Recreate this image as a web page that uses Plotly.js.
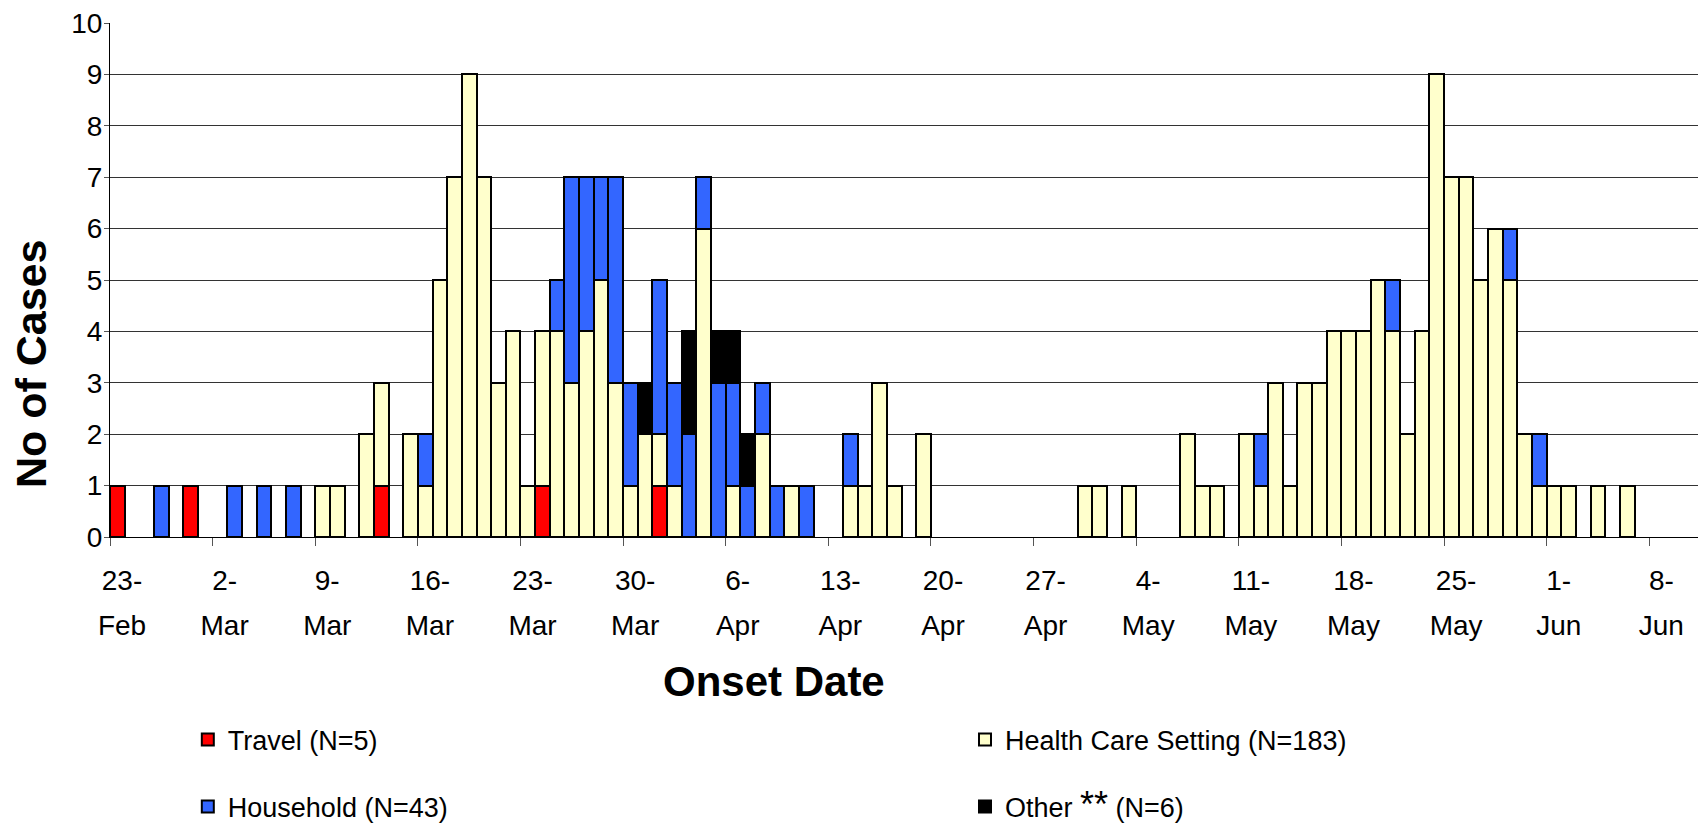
<!DOCTYPE html>
<html><head><meta charset="utf-8">
<script src="https://cdn.plot.ly/plotly-3.0.1.min.js"></script>
<style>html,body{margin:0;padding:0;background:#fff;}#chart{width:1698px;height:824px;}</style>
</head><body><div id="chart"></div>
<script>
// Daily case counts by onset date, starting 23-Feb (one entry per day)
const travel = [
1,0,0,0,0,1,0,
0,0,0,0,0,0,0,
0,0,0,0,1,0,0,
0,0,0,0,0,0,0,
0,1,0,0,0,0,0,
0,0,1,0,0,0,0,
0,0,0,0,0,0,0,
0,0,0,0,0,0,0,
0,0,0,0,0,0,0,
0,0,0,0,0,0,0,
0,0,0,0,0,0,0,
0,0,0,0,0,0,0,
0,0,0,0,0,0,0,
0,0,0,0,0,0,0,
0,0,0,0,0,0,0];
const healthCare = [
0,0,0,0,0,0,0,
0,0,0,0,0,0,0,
1,1,0,2,2,0,2,
1,5,7,9,7,3,4,
1,3,4,3,4,5,3,
1,2,1,1,0,6,0,
1,0,2,0,1,0,0,
0,1,1,3,1,0,2,
0,0,0,0,0,0,0,
0,0,0,1,1,0,1,
0,0,0,2,1,1,0,
2,1,3,1,3,3,4,
4,4,5,4,2,4,9,
7,7,5,6,5,2,1,
1,1,0,1,0,1,0];
const household = [
0,0,0,1,0,0,0,
0,1,0,1,0,1,0,
0,0,0,0,0,0,0,
1,0,0,0,0,0,0,
0,0,1,4,3,2,4,
2,0,3,2,2,1,3,
2,1,1,1,0,1,0,
0,1,0,0,0,0,0,
0,0,0,0,0,0,0,
0,0,0,0,0,0,0,
0,0,0,0,0,0,0,
0,1,0,0,0,0,0,
0,0,0,1,0,0,0,
0,0,0,0,1,0,1,
0,0,0,0,0,0,0];
const other = [
0,0,0,0,0,0,0,
0,0,0,0,0,0,0,
0,0,0,0,0,0,0,
0,0,0,0,0,0,0,
0,0,0,0,0,0,0,
0,1,0,0,2,0,1,
1,1,0,0,0,0,0,
0,0,0,0,0,0,0,
0,0,0,0,0,0,0,
0,0,0,0,0,0,0,
0,0,0,0,0,0,0,
0,0,0,0,0,0,0,
0,0,0,0,0,0,0,
0,0,0,0,0,0,0,
0,0,0,0,0,0,0];

const seriesNames = ["Travel (N=5)", "Health Care Setting (N=183)", "Household (N=43)",
  "Other <span style=\"font-size:36px\">**</span> (N=6)"];
const seriesColors = ["#FF0000", "#FFFFCC", "#3366FF", "#000000"];

// Week tick labels (weeks start 23-Feb)
const tickDayLabels = ["23-","2-","9-","16-","23-","30-","6-","13-","20-","27-","4-","11-","18-","25-","1-","8-"];
const tickMonthLabels = ["Feb","Mar","Mar","Mar","Mar","Mar","Apr","Apr","Apr","Apr","May","May","May","May","Jun","Jun"];

const days = travel.map((_, i) => i);
const weekEdges = tickDayLabels.map((_, k) => k * 7 - 0.5);
const xRange = [-0.5, 107.82];
const labelShift = 12 * (xRange[1] - xRange[0]) / 1588; // px -> data units
const labelPos = weekEdges.map(v => v + labelShift);

const FONT = "Liberation Sans, Arial, sans-serif";
const toNull = a => a.map(v => v === 0 ? null : v);

const allSeries = [travel, healthCare, household, other];
const legendIds = ["legend", "legend2", "legend3", "legend4"];
const traces = allSeries.map((vals, i) => ({
  type: "bar",
  x: days,
  y: toNull(vals),
  name: seriesNames[i],
  legend: legendIds[i],
  marker: {color: seriesColors[i], line: {color: "#000", width: 2}},
  hoverinfo: "x+y+name"
}));
// carriers so the two tick-label rows (overlay axes) get drawn
["x2", "x3"].forEach(ax => traces.push({
  type: "scatter", mode: "markers", x: [xRange[0]], y: [null], xaxis: ax, yaxis: "y",
  showlegend: false, hoverinfo: "skip"
}));

const legendBase = {
  orientation: "h", xanchor: "left", yanchor: "middle", traceorder: "normal",
  font: {size: 27, family: FONT, color: "#000"}, bgcolor: "rgba(0,0,0,0)", borderwidth: 0
};
const legendX = [0.049, 0.5384, 0.049, 0.5384];
const legendY = [-0.395, -0.395, -0.525, -0.525];

const labelAxis = (texts, len) => ({
  overlaying: "x", anchor: "y", side: "bottom", range: xRange,
  tickmode: "array", tickvals: labelPos, ticktext: texts,
  ticks: "outside", ticklen: len, tickcolor: "rgba(0,0,0,0)",
  tickfont: {size: 28, family: FONT, color: "#000"},
  showline: false, showgrid: false, zeroline: false, fixedrange: true
});

const layout = {
  width: 1698, height: 824,
  margin: {l: 110, r: 0, t: 23, b: 287, autoexpand: false},
  paper_bgcolor: "#fff", plot_bgcolor: "#fff",
  barmode: "stack", bargap: 0,
  font: {family: FONT, color: "#000", size: 27},
  xaxis: {
    range: xRange, tickmode: "array", tickvals: weekEdges, ticktext: weekEdges.map(() => ""),
    showticklabels: false, ticks: "outside", ticklen: 8, tickwidth: 1, tickcolor: "#555",
    showline: true, linecolor: "#000", linewidth: 1, showgrid: false, zeroline: false, fixedrange: true
  },
  xaxis2: labelAxis(tickDayLabels, 18),
  xaxis3: labelAxis(tickMonthLabels, 63),
  yaxis: {
    range: [0, 10], dtick: 1, tick0: 0,
    ticks: "outside", ticklen: 5, tickcolor: "#555", ticklabelstandoff: -4,
    tickfont: {size: 28, family: FONT, color: "#000"},
    showline: true, linecolor: "#000", linewidth: 1,
    showgrid: true, gridcolor: "#333", gridwidth: 1, zeroline: false, fixedrange: true
  },
  showlegend: true,
  annotations: [
    {text: "<b>Onset Date</b>", xref: "paper", yref: "paper", x: 0.418, y: -0.282,
     xanchor: "center", yanchor: "middle", showarrow: false, font: {size: 42, family: FONT, color: "#000"}},
    {text: "<b>No of Cases</b>", xref: "paper", yref: "paper", x: -0.0497, y: 0.3366,
     xanchor: "center", yanchor: "middle", textangle: -90, showarrow: false, font: {size: 43, family: FONT, color: "#000"}}
  ]
};
legendIds.forEach((id, i) => {
  layout[id] = Object.assign({}, legendBase, {x: legendX[i], y: legendY[i]});
});

Plotly.newPlot("chart", traces, layout, {displayModeBar: false, staticPlot: true});
</script></body></html>
